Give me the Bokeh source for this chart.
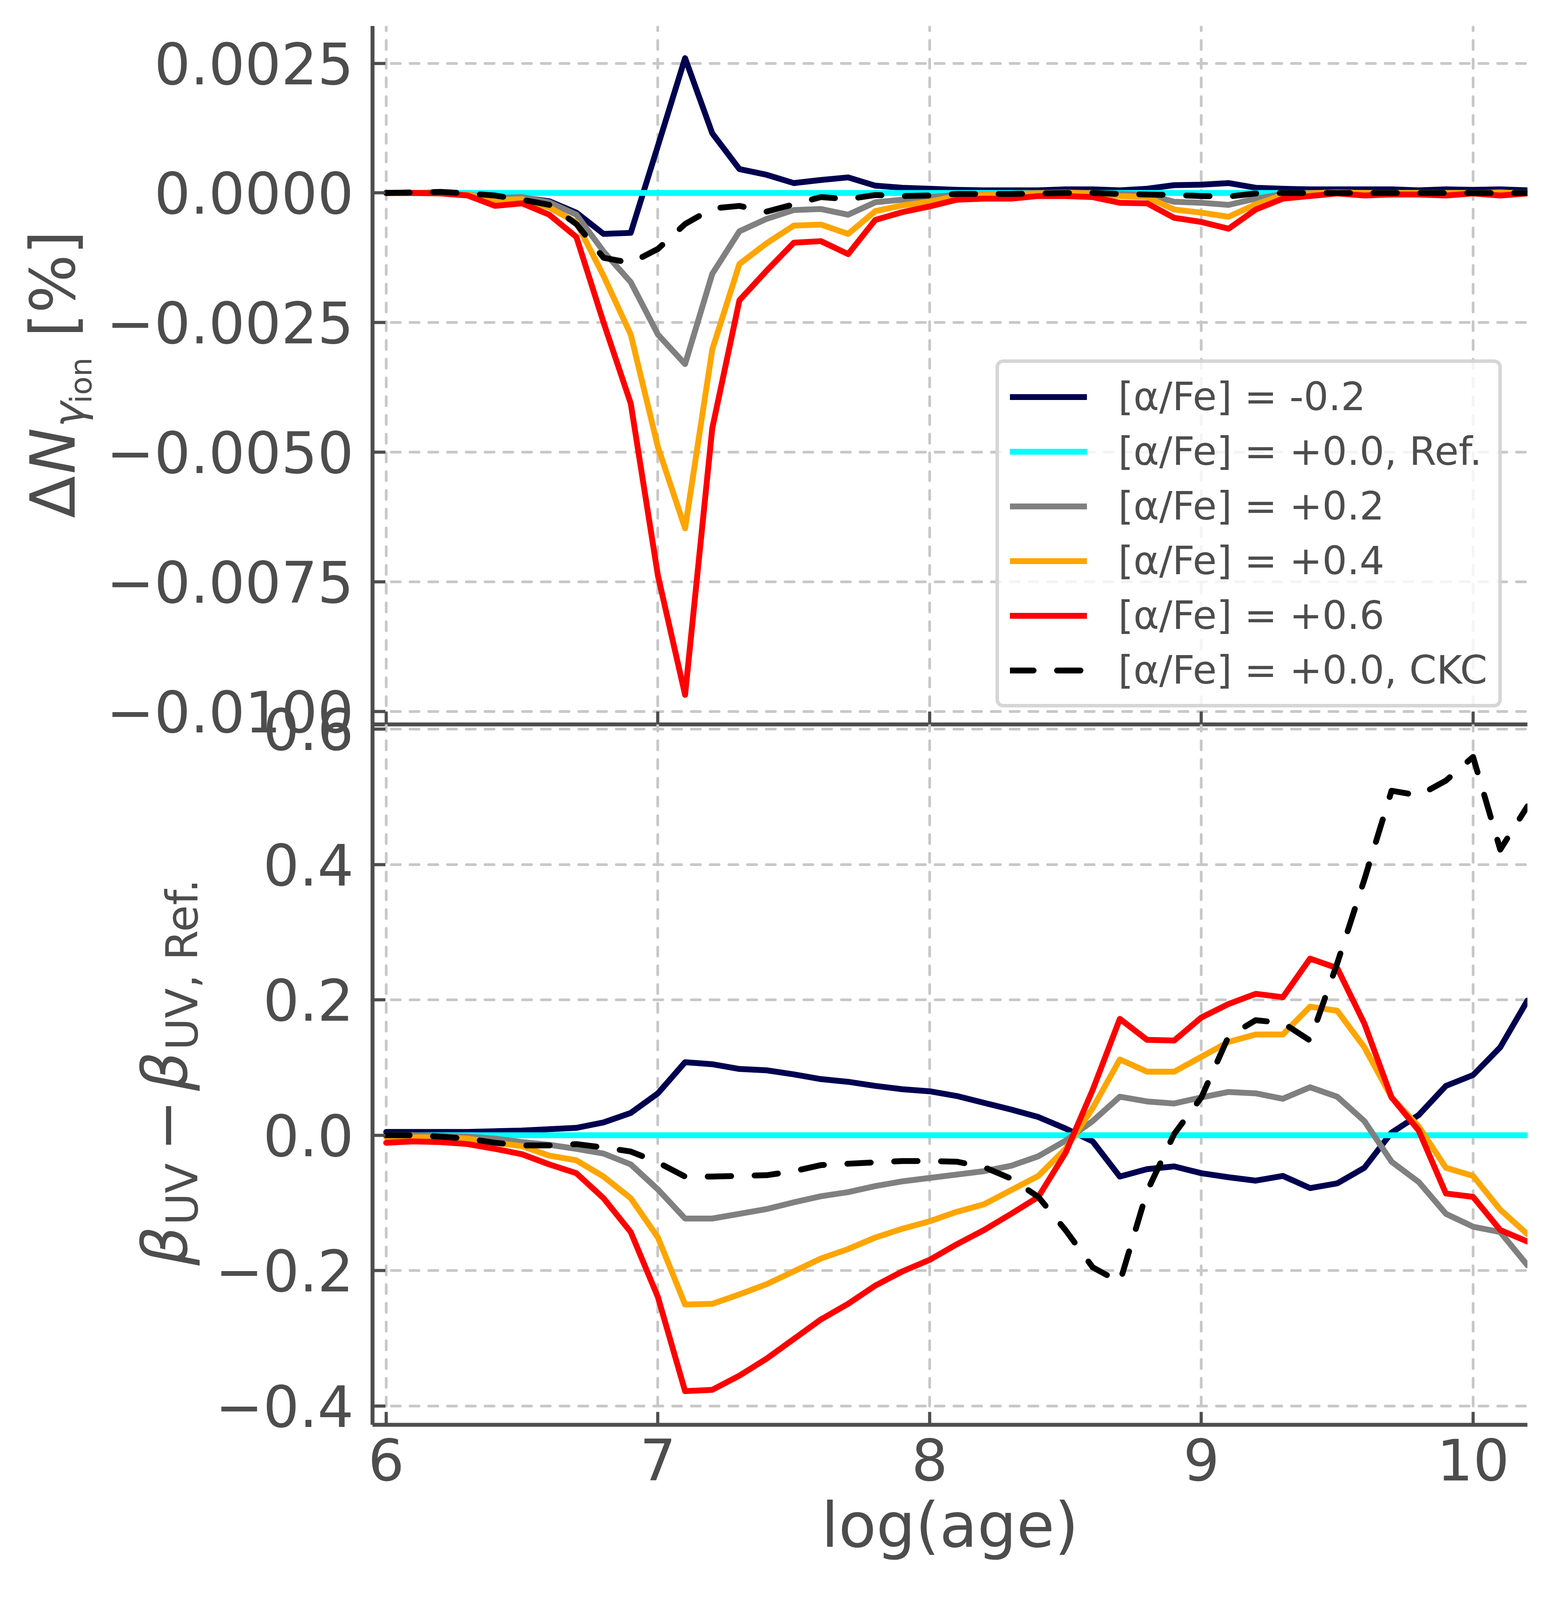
from bokeh.plotting import figure
from bokeh.models import Range1d, FixedTicker, Label, Legend, LegendItem
from bokeh.layouts import column, row
from bokeh.embed import file_html
from bokeh.resources import INLINE

# ---------------- data ----------------
log_age = [6.0, 6.1, 6.2, 6.3, 6.4, 6.5, 6.6, 6.7, 6.8, 6.9,
           7.0, 7.1, 7.2, 7.3, 7.4, 7.5, 7.6, 7.7, 7.8, 7.9,
           8.0, 8.1, 8.2, 8.3, 8.4, 8.5, 8.6, 8.7, 8.8, 8.9,
           9.0, 9.1, 9.2, 9.3, 9.4, 9.5, 9.6, 9.7, 9.8, 9.9,
           10.0, 10.1, 10.2]

labels = ["[α/Fe] = -0.2", "[α/Fe] = +0.0, Ref.", "[α/Fe] = +0.2",
          "[α/Fe] = +0.4", "[α/Fe] = +0.6", "[α/Fe] = +0.0, CKC"]

# top panel: Delta N_gamma_ion [%]
nion_m02 = [0.0, 0.0, 0.00001, -0.00002, -0.0001, -0.00009, -0.00016, -0.00038, -0.00079, -0.00077,
            0.00091, 0.0026, 0.00115, 0.00046, 0.00035, 0.00019, 0.00025, 0.0003, 0.00014, 0.0001,
            0.00008, 0.00006, 0.00005, 0.00005, 0.00005, 0.00007, 0.00007, 0.00005, 0.00008, 0.00015,
            0.00016, 0.00019, 0.0001, 0.00008, 0.00007, 0.00007, 0.00007, 0.00007, 0.00005, 0.00007,
            0.00006, 0.00007, 0.00005]
nion_ref = [0.0] * 43
nion_p02 = [0.0, 0.0, 0.0, -0.00003, -0.0001, -0.00008, -0.00018, -0.00042, -0.00113, -0.00172,
            -0.00273, -0.0033, -0.00156, -0.00074, -0.0005, -0.00033, -0.00031, -0.00042, -0.00018, -0.00013,
            -0.00008, -0.00004, -0.00003, -0.00002, 0.0, 0.00001, 0.0, -0.00002, -0.00003, -0.00017,
            -0.00019, -0.00023, -0.00011, -0.00002, 0.0, 0.00001, 0.0, 0.0, 0.0, 0.0,
            0.0, 0.0, 0.0]
nion_p04 = [0.0, 0.0, 0.0, -0.00003, -0.00014, -0.00012, -0.00028, -0.00057, -0.00160, -0.00273,
            -0.0049, -0.00647, -0.00302, -0.00137, -0.00097, -0.00063, -0.00061, -0.00079, -0.00035, -0.00024,
            -0.00017, -0.00006, -0.00004, -0.00002, -0.00001, 0.0, -0.00001, -0.00006, -0.00008, -0.00032,
            -0.00038, -0.00046, -0.00022, -0.00004, -0.00001, 0.00001, 0.0, 0.0, 0.0, 0.0,
            0.0, 0.00001, -0.00001]
nion_p06 = [0.0, 0.0, -0.00001, -0.00005, -0.00025, -0.0002, -0.00042, -0.00085, -0.0025, -0.00406,
            -0.00738, -0.00968, -0.00454, -0.00207, -0.0015, -0.00096, -0.00093, -0.00118, -0.00052, -0.00037,
            -0.00026, -0.00013, -0.00011, -0.00011, -0.00006, -0.00006, -0.00008, -0.00019, -0.0002, -0.00048,
            -0.00056, -0.00069, -0.00032, -0.00011, -0.00006, -0.00001, -0.00005, -0.00003, -0.00003, -0.00005,
            -0.00001, -0.00005, -0.00001]
nion_ckc = [0.0, 0.00001, 0.00002, -0.00001, -0.00005, -0.00013, -0.00023, -0.0006, -0.00125, -0.00135,
            -0.00108, -0.0006, -0.0003, -0.00025, -0.00036, -0.00022, -0.00008, -0.00012, -0.00004, -0.00006,
            -0.00005, -0.00002, -0.00002, -0.00002, -0.00001, 0.0, 0.0, -0.00002, -0.00003, -0.00004,
            -0.00006, -0.00007, -0.00001, 0.0, 0.0, 0.0, 0.0, 0.0, 0.0, 0.0,
            0.0, 0.0, 0.0]

# bottom panel: beta_UV - beta_UV,Ref.
beta_m02 = [0.005, 0.005, 0.005, 0.005, 0.006, 0.007, 0.009, 0.011, 0.019, 0.033,
            0.062, 0.108, 0.105, 0.098, 0.096, 0.090, 0.083, 0.079, 0.073, 0.068,
            0.065, 0.058, 0.048, 0.038, 0.027, 0.010, -0.009, -0.061, -0.050, -0.046,
            -0.056, -0.062, -0.067, -0.060, -0.078, -0.071, -0.048, 0.004, 0.030, 0.073,
            0.089, 0.130, 0.199]
beta_ref = [0.0] * 43
beta_p02 = [0.0, 0.0, -0.001, -0.002, -0.005, -0.010, -0.014, -0.020, -0.027, -0.043,
            -0.080, -0.123, -0.123, -0.116, -0.109, -0.099, -0.090, -0.084, -0.075, -0.068,
            -0.063, -0.058, -0.053, -0.045, -0.031, -0.008, 0.021, 0.057, 0.050, 0.047,
            0.056, 0.064, 0.062, 0.054, 0.071, 0.057, 0.021, -0.039, -0.069, -0.116,
            -0.135, -0.143, -0.192]
beta_p04 = [-0.003, -0.003, -0.003, -0.005, -0.011, -0.016, -0.030, -0.037, -0.061, -0.093,
            -0.151, -0.250, -0.249, -0.235, -0.220, -0.201, -0.182, -0.168, -0.151, -0.138,
            -0.127, -0.113, -0.102, -0.081, -0.060, -0.020, 0.040, 0.112, 0.094, 0.094,
            0.116, 0.138, 0.149, 0.149, 0.190, 0.184, 0.130, 0.056, 0.013, -0.048,
            -0.060, -0.110, -0.146]
beta_p06 = [-0.011, -0.009, -0.010, -0.013, -0.020, -0.028, -0.043, -0.056, -0.093, -0.143,
            -0.239, -0.378, -0.376, -0.355, -0.330, -0.301, -0.272, -0.249, -0.222, -0.201,
            -0.184, -0.161, -0.140, -0.116, -0.091, -0.026, 0.067, 0.172, 0.141, 0.140,
            0.174, 0.194, 0.209, 0.204, 0.261, 0.247, 0.165, 0.056, 0.007, -0.086,
            -0.091, -0.140, -0.157]
beta_ckc = [0.0, 0.0, -0.002, -0.005, -0.011, -0.015, -0.015, -0.013, -0.018, -0.024,
            -0.040, -0.061, -0.061, -0.060, -0.059, -0.053, -0.044, -0.042, -0.040, -0.038,
            -0.038, -0.039, -0.047, -0.064, -0.091, -0.140, -0.195, -0.217, -0.083, 0.002,
            0.056, 0.146, 0.170, 0.166, 0.140, 0.254, 0.378, 0.509, 0.502, 0.524,
            0.559, 0.422, 0.486]

x_ticks = [6, 7, 8, 9, 10]
x_tick_labels = ["6", "7", "8", "9", "10"]
top_ticks = [-0.01, -0.0075, -0.005, -0.0025, 0.0, 0.0025]
top_tick_labels = ["\u22120.0100", "\u22120.0075", "\u22120.0050", "\u22120.0025", "0.0000", "0.0025"]
bot_ticks = [-0.4, -0.2, 0.0, 0.2, 0.4, 0.6]
bot_tick_labels = ["\u22120.4", "\u22120.2", "0.0", "0.2", "0.4", "0.6"]

# ---------------- style / geometry ----------------
FONT = "DejaVu Sans"
TXT = "#4d4d4d"
colors = ["#000050", "#00ffff", "#808080", "#ffa500", "#ff0000", "#000000"]
LW = 15

LAB1_W, LAB2_W = 260, 540
FRAME_W = 2956
RIGHT = 73
TOP1, FH1, BOT1 = 66, 1788, 60
TOP2, FH2, BOT2 = 80, 1793, 420
H1 = TOP1 + FH1 + BOT1
H2 = TOP2 + FH2 + BOT2

xr = Range1d(5.9497, 10.2)

p1 = figure(x_range=xr, y_range=Range1d(-0.01025, 0.00322),
            frame_width=FRAME_W, frame_height=FH1,
            min_border_left=953 - LAB1_W, min_border_right=RIGHT,
            min_border_top=TOP1, min_border_bottom=BOT1,
            output_backend="svg", toolbar_location=None)
p2 = figure(x_range=xr, y_range=Range1d(-0.4277, 0.607),
            frame_width=FRAME_W, frame_height=FH2,
            min_border_left=953 - LAB2_W, min_border_right=RIGHT,
            min_border_top=TOP2, min_border_bottom=BOT2,
            output_backend="svg", toolbar_location=None)


def style(p, yt, ylab):
    p.outline_line_color = None
    for ax in (p.xaxis[0], p.yaxis[0]):
        ax.axis_line_color = TXT
        ax.axis_line_width = 10
        ax.major_tick_line_color = TXT
        ax.major_tick_line_width = 8
        ax.major_tick_in = 33
        ax.major_tick_out = 0
        ax.minor_tick_line_color = None
        ax.major_label_text_font = FONT
        ax.major_label_text_font_size = "146px"
        ax.major_label_text_color = TXT
    p.xaxis[0].ticker = FixedTicker(ticks=x_ticks)
    p.xaxis[0].major_label_overrides = {t: l for t, l in zip(x_ticks, x_tick_labels)}
    p.yaxis[0].ticker = FixedTicker(ticks=yt)
    p.yaxis[0].major_label_overrides = {t: l for t, l in zip(yt, ylab)}
    p.yaxis[0].major_label_standoff = 48
    for g, t in ((p.xgrid[0], x_ticks), (p.ygrid[0], yt)):
        g.ticker = FixedTicker(ticks=t)
        g.grid_line_color = "#c8c8c8"
        g.grid_line_width = 7
        g.grid_line_dash = "23 25"
        g.grid_line_cap = "round"


style(p1, top_ticks, top_tick_labels)
style(p2, bot_ticks, bot_tick_labels)

# top panel: x ticks only, no labels
p1.xaxis[0].major_label_overrides = {t: "" for t in x_ticks}
p1.xaxis[0].major_label_text_font_size = "1px"
p1.xaxis[0].major_label_standoff = 0

p2.xaxis[0].major_label_standoff = 35
p2.xaxis[0].axis_label = "log(age)"
p2.xaxis[0].axis_label_text_font = FONT
p2.xaxis[0].axis_label_text_font_size = "158px"
p2.xaxis[0].axis_label_text_font_style = "normal"
p2.xaxis[0].axis_label_text_color = TXT
p2.xaxis[0].axis_label_standoff = 20

p2.border_fill_alpha = 0
p2.background_fill_alpha = 0

top_series = [nion_m02, nion_ref, nion_p02, nion_p04, nion_p06, nion_ckc]
bot_series = [beta_m02, beta_ref, beta_p02, beta_p04, beta_p06, beta_ckc]

renderers = []
for i, (ys, c) in enumerate(zip(top_series, colors)):
    dash = "60 60" if i == 5 else "solid"
    r = p1.line(log_age, ys, line_color=c, line_width=LW, line_join="round",
                line_cap="round", line_dash=dash)
    renderers.append(r)
for i, (ys, c) in enumerate(zip(bot_series, colors)):
    dash = "60 60" if i == 5 else "solid"
    p2.line(log_age, ys, line_color=c, line_width=LW, line_join="round",
            line_cap="round", line_dash=dash)

legend = Legend(items=[LegendItem(label=l, renderers=[r]) for l, r in zip(labels, renderers)],
                location=(1595, 43))
legend.label_text_font = FONT
legend.label_text_font_size = "100px"
legend.label_text_color = TXT
legend.glyph_width = 197
legend.glyph_height = 116
legend.label_height = 116
legend.label_standoff = 80
legend.spacing = 23
legend.padding = 28
legend.margin = 0
legend.border_line_color = "#cccccc"
legend.border_line_alpha = 0.8
legend.border_line_width = 9
legend.background_fill_color = "white"
legend.background_fill_alpha = 0.8
try:
    legend.border_radius = 20
except Exception:
    pass
p1.add_layout(legend)


def label_fig(w, h):
    f = figure(width=w, height=h, x_range=Range1d(0, 1), y_range=Range1d(0, 1),
               x_axis_location=None, y_axis_location=None, min_border=0,
               output_backend="svg", toolbar_location=None)
    f.center = []
    f.outline_line_color = None
    f.border_fill_alpha = 0
    f.background_fill_alpha = 0
    return f


lab1 = label_fig(LAB1_W, H1)
lab2 = label_fig(LAB2_W, H2)

# the label figures' frames line up with the neighbouring plot frames
fb1 = 8 + TOP1 + FH1               # page y of the top frame bottom
fb2 = fb1 + FH2                    # page y of the bottom frame bottom
MID = 0.346                        # (ascent - descent) / 2 in em, DejaVu Sans


def put(f, bottom, bx, py, text, size, style="normal", adv=0.0):
    """Rotated piece; bx = page x of its baseline, py = page y where it starts,
    adv = its advance in em (0 -> anchored at its start)."""
    fs = float(size[:-2])
    ax = bx - MID * fs - 8
    if adv > 0:
        align, y = "center", bottom - (py - adv * fs / 2)
    else:
        align, y = "left", bottom - py
    f.add_layout(Label(x=ax, y=y, x_units="screen", y_units="screen", text=text,
                       angle=1.5707963267948966, text_font=FONT, text_font_size=size,
                       text_font_style=style, text_color=TXT, text_align=align,
                       text_baseline="middle"))


# y label top: Delta N_{gamma_ion} [%]
put(lab1, fb1, 198, 1334, "Δ", "158px", adv=0.685)
put(lab1, fb1, 198, 1221, "N", "158px", "italic", adv=0.748)
put(lab1, fb1, 223, 1101, "γ", "110px", "italic", adv=0.592)
put(lab1, fb1, 242, 1040, "ion", "77px", adv=1.524)
put(lab1, fb1, 198, 871, "[%]", "158px")

# y label bottom: beta_UV - beta_UV,Ref.
put(lab2, fb2, 485, 3247, "β", "158px", "italic", adv=0.635)
put(lab2, fb2, 512, 3144, "UV", "112px", adv=1.416)
put(lab2, fb2, 485, 2955, "\u2212", "158px", adv=0.838)
put(lab2, fb2, 485, 2800, "β", "158px", "italic", adv=0.635)
put(lab2, fb2, 512, 2696, "UV, Ref.", "112px")

row1 = row(lab1, p1)
row2 = row(lab2, p2)
row2.margin = (-(BOT1 + TOP2), 0, 0, 0)

layout = column(row1, row2)
open("out.html", "w").write(file_html(layout, INLINE))
